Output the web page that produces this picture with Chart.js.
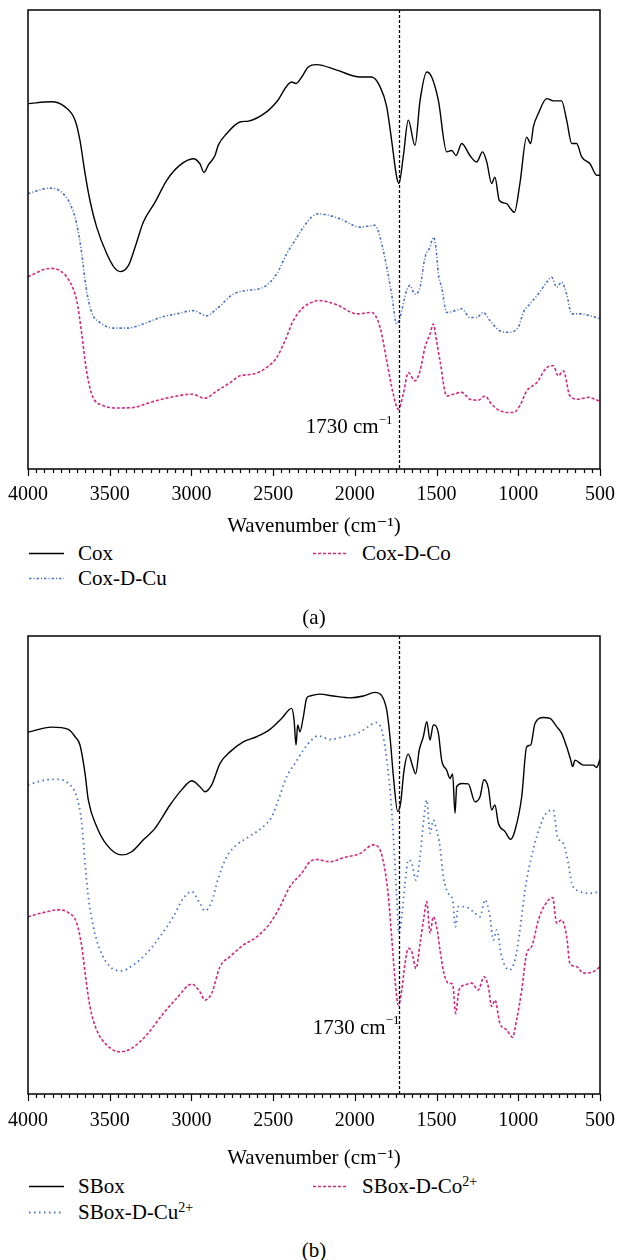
<!DOCTYPE html>
<html>
<head>
<meta charset="utf-8">
<script src="https://cdn.jsdelivr.net/npm/chart.js@4.4.1/dist/chart.umd.min.js"></script>
<style>
  body { margin: 0; background: #fff; }
  #page { position: relative; width: 618px; height: 1260px; font-family: "Liberation Serif", "DejaVu Serif", serif; color: #000; }
  canvas { position: absolute; left: 0; }
  .leg { position: absolute; font-size: 21px; line-height: 24px; white-space: nowrap; }
  .leg svg { position: absolute; top: 0; }
  .leg sup { font-size: 14px; vertical-align: 7px; line-height: 0; }
  .cap { position: absolute; width: 618px; left: 5px; text-align: center; font-size: 21px; line-height: 24px; }
</style>
</head>
<body>
<div id="page">
  <canvas id="chartA" width="618" height="540" style="top:0px"></canvas>
  <canvas id="chartB" width="618" height="546" style="top:626px"></canvas>
  <div id="legendA"></div>
  <div id="legendB"></div>
  <div class="cap" style="top:605px">(a)</div>
  <div class="cap" style="top:1238px">(b)</div>
</div>
<script>
const FONT = '"Liberation Serif", "DejaVu Serif", serif';

// panel (a) -- wavenumber (cm-1) / transmittance (a.u., % of plot height)
const coxWn = [4000,3855,3774,3712,3682,3651,3621,3580,3518,3468,3437,3386,3345,3294,3223,3151,3070,2989,2948,2923,2897,2856,2836,2784,2703,2652,2540,2478,2387,2360,2325,2285,2234,2111,1969,1897,1846,1805,1775,1744,1730,1704,1673,1632,1601,1560,1530,1489,1438,1407,1381,1346,1296,1255,1218,1193,1163,1143,1116,1071,1047,1024,990,949,924,908,878,826,786,735,704,673,643,612,561,520,500];
const coxT = [79.6,80.0,78.9,76.0,71.6,64.4,58.5,52.7,46.9,43.7,43.0,44.3,48.3,53.8,58.1,62.9,66.2,67.6,66.5,64.6,66.2,68.3,70.5,73.1,75.6,75.8,77.8,80.0,84.3,84.0,85.4,87.6,88.1,86.9,85.4,85.4,83.3,78.9,71.6,63.6,62.2,68.0,76.0,70.5,80.3,86.5,85.4,80.3,69.1,69.4,68.3,70.9,68.3,66.9,69.1,66.9,62.2,63.6,58.5,57.8,56.7,55.9,62.2,72.3,70.9,74.5,77.4,80.7,80.2,80.2,76.0,70.9,70.9,68.0,66.5,64.0,64.0];

const coxCuWn = [4000,3865,3794,3743,3702,3671,3645,3610,3559,3478,3396,3294,3192,3090,2989,2907,2845,2744,2662,2560,2478,2417,2366,2315,2264,2224,2091,1969,1877,1846,1805,1775,1744,1724,1683,1663,1632,1601,1571,1540,1520,1504,1489,1469,1438,1387,1346,1296,1255,1214,1173,1112,1061,1000,969,928,878,826,796,765,735,704,673,622,561,500];
const coxCuT = [60.0,61.2,60.3,57.8,53.4,46.9,39.6,34.1,31.9,30.7,30.7,31.6,33.0,33.8,34.5,33.4,34.9,38.1,38.9,39.6,42.5,46.9,49.8,52.7,54.9,55.6,54.5,52.7,53.1,50.5,44.0,38.1,31.6,33.0,38.9,40.0,38.1,39.6,46.1,48.3,50.5,48.3,42.5,39.6,34.1,34.5,34.9,33.0,33.0,34.1,32.3,30.1,29.8,30.9,34.1,36.0,38.1,40.7,41.8,39.6,40.7,38.1,33.8,33.8,33.4,32.7];

const coxCoWn = [4000,3865,3804,3743,3702,3671,3645,3610,3539,3457,3355,3253,3131,2998,2917,2845,2764,2703,2621,2540,2478,2428,2377,2315,2264,2224,2111,1989,1897,1846,1805,1765,1734,1704,1673,1632,1601,1571,1540,1520,1500,1479,1438,1397,1346,1296,1245,1204,1163,1112,1030,990,949,887,826,786,755,724,684,633,572,500];
const coxCoT = [41.9,43.7,43.2,40.7,36.7,29.4,22.1,16.3,13.8,13.3,13.4,14.5,15.6,16.3,15.4,17.0,18.8,20.3,20.7,22.1,24.3,27.9,32.3,35.2,36.3,36.7,35.8,33.8,34.1,30.9,23.6,16.3,13.0,16.3,21.0,19.2,21.4,26.5,29.4,31.6,27.9,23.6,15.9,16.3,16.7,15.2,15.0,15.9,14.1,12.7,12.3,13.8,17.0,18.8,22.1,22.5,20.3,21.4,15.9,15.2,15.6,14.8];

// panel (b)
const sboxWn = [4000,3855,3753,3712,3682,3651,3631,3580,3518,3427,3365,3294,3223,3131,3060,2998,2948,2917,2876,2825,2764,2683,2601,2519,2448,2387,2372,2360,2350,2336,2315,2295,2275,2213,2132,2030,1948,1877,1836,1805,1785,1764,1738,1720,1699,1673,1646,1628,1606,1581,1560,1540,1520,1489,1469,1438,1418,1402,1387,1377,1346,1306,1265,1234,1210,1183,1163,1143,1122,1081,1047,1020,979,949,924,898,847,806,765,735,704,679,667,653,602,541,520,500];
const sboxT = [79.0,80.1,79.6,78.0,76.2,70.0,64.2,58.4,54.4,52.2,52.9,55.5,58.0,63.1,66.4,68.4,67.1,66.0,67.5,72.2,74.7,76.9,78.0,79.6,82.0,84.2,81.7,76.2,80.6,79.1,82.4,86.4,86.9,87.3,86.9,86.5,86.9,87.7,87.0,83.8,78.0,69.3,61.7,63.5,70.7,74.2,71.5,69.9,75.1,78.0,81.3,77.3,80.6,78.8,72.9,70.7,68.9,69.9,61.3,67.1,67.8,67.7,63.8,64.9,68.6,66.8,62.0,63.1,59.1,57.3,55.6,57.6,64.9,75.8,76.2,80.9,82.2,82.0,80.2,78.8,75.8,72.9,71.5,72.9,71.8,71.8,71.3,73.1];

const sboxCuWn = [4000,3886,3815,3753,3702,3671,3651,3631,3600,3559,3498,3427,3355,3274,3192,3111,3050,2998,2948,2917,2876,2836,2784,2723,2642,2560,2509,2468,2417,2366,2315,2264,2224,2152,2070,1979,1918,1871,1836,1810,1785,1764,1744,1730,1713,1693,1673,1652,1626,1601,1577,1560,1540,1520,1500,1479,1459,1428,1402,1385,1367,1326,1275,1234,1204,1173,1153,1132,1102,1055,1020,990,959,928,887,837,786,761,724,694,673,622,561,500];
const sboxCuT = [67.5,68.6,68.7,67.8,64.9,59.1,50.4,43.1,36.5,31.4,27.8,26.9,28.2,30.7,34.4,38.7,42.7,44.2,41.6,40.0,42.0,47.1,51.8,54.4,56.3,58.4,60.5,64.2,69.3,72.2,75.1,77.3,78.2,77.4,78.0,78.8,80.2,81.1,79.5,74.4,66.4,56.2,43.1,35.1,38.7,46.0,51.1,50.4,46.7,51.8,60.5,64.2,56.9,59.8,57.6,54.0,47.5,43.8,42.4,36.5,40.9,40.9,39.8,38.7,42.4,38.7,33.6,35.8,30.0,27.1,29.3,35.8,44.5,50.4,56.2,60.9,62.0,56.2,54.7,50.4,46.0,44.2,43.8,44.2];

const sboxCoWn = [4000,3906,3815,3753,3702,3671,3645,3621,3580,3518,3437,3365,3274,3172,3090,2998,2948,2917,2876,2825,2764,2683,2601,2519,2458,2397,2325,2275,2234,2152,2070,1969,1887,1846,1816,1795,1775,1754,1734,1713,1693,1673,1652,1626,1601,1577,1560,1540,1520,1496,1479,1455,1428,1402,1383,1363,1326,1285,1245,1210,1183,1163,1143,1112,1071,1035,1010,979,949,918,877,837,790,765,735,704,684,643,602,541,500];
const sboxCoT = [38.7,39.6,40.2,39.6,37.3,32.2,24.9,19.1,14.0,10.7,9.2,10.0,12.9,17.6,20.9,24.0,22.3,20.5,22.0,27.8,30.0,32.5,34.3,37.3,40.9,45.3,48.2,50.7,51.2,50.7,51.6,52.5,54.4,53.3,48.9,43.1,34.4,24.9,19.4,22.7,28.5,31.8,31.1,27.4,32.9,38.7,42.0,35.1,38.7,35.8,31.4,26.4,24.2,24.0,17.6,22.7,23.8,24.2,22.7,25.6,23.4,19.1,20.5,15.4,14.0,12.4,16.2,22.7,30.7,32.2,38.0,41.3,42.9,37.3,38.0,34.4,28.5,27.8,26.4,26.7,27.8];

const namesA = ['Cox', 'Cox-D-Cu', 'Cox-D-Co'];
const supsA = ['', '', ''];
const namesB = ['SBox', 'SBox-D-Cu', 'SBox-D-Co'];
const supsB = ['', '2+', '2+'];
const xTicksMajor = [4000, 3500, 3000, 2500, 2000, 1500, 1000, 500];
const markerWn = 1730;

const BLACK = '#000000';
const BLUE = '#4a72c6';
const PINK = '#d4267f';

function pts(wn, t) {
    return wn.map((w, i) => ({ x: w, y: t[i] }));
}

// box, minor/major ticks, 1730 line and its label
const framePlugin = {
    id: 'frame',
    afterDatasetsDraw(chart, args, opts) {
        const { ctx, chartArea: a } = chart;
        const x = chart.scales.x;
        const y = chart.scales.y;
        ctx.save();
        ctx.strokeStyle = '#000';
        ctx.lineWidth = 1.5;
        ctx.strokeRect(a.left, a.top, a.right - a.left, a.bottom - a.top);

        ctx.lineWidth = 1.2;
        x.ticks.forEach(t => {
            const px = Math.round(x.getPixelForValue(t.value)) + 0.5;
            const len = xTicksMajor.includes(t.value) ? 7 : 4;
            ctx.beginPath();
            ctx.moveTo(px, a.bottom);
            ctx.lineTo(px, a.bottom + len);
            ctx.stroke();
        });

        const mx = Math.round(x.getPixelForValue(markerWn)) + 0.5;
        ctx.setLineDash([3, 2]);
        ctx.lineWidth = 1.3;
        ctx.beginPath();
        ctx.moveTo(mx, a.top);
        ctx.lineTo(mx, a.bottom);
        ctx.stroke();
        ctx.setLineDash([]);

        const ty = y.getPixelForValue(opts.labelY);
        ctx.fillStyle = '#000';
        ctx.textBaseline = 'middle';
        const main = markerWn + ' cm';
        ctx.font = '13px ' + FONT;
        const supW = ctx.measureText('\u22121').width;
        ctx.font = '21px ' + FONT;
        const mainW = ctx.measureText(main).width;
        const right = mx - opts.gap;
        ctx.textAlign = 'left';
        ctx.fillText(main, right - supW - mainW, ty);
        ctx.font = '13px ' + FONT;
        ctx.fillText('\u22121', right - supW, ty - 7);
        ctx.restore();
    }
};

function makeChart(id, sets, axisH, tickPad, labelY, gap) {
    return new Chart(document.getElementById(id), {
        type: 'line',
        data: {
            datasets: sets.map(s => ({
                label: s.label,
                data: s.data,
                borderColor: s.color,
                borderDash: s.dash,
                borderWidth: s.width,
                pointRadius: 0,
                fill: false,
                cubicInterpolationMode: 'monotone'
            }))
        },
        options: {
            responsive: false,
            animation: false,
            layout: { padding: { left: 28, right: 18, top: 10, bottom: 0 } },
            plugins: {
                legend: { display: false },
                tooltip: { enabled: false },
                frame: { labelY, gap }
            },
            scales: {
                x: {
                    type: 'linear',
                    reverse: true,
                    min: 500,
                    max: 4000,
                    grid: { display: false },
                    border: { display: false },
                    ticks: {
                        stepSize: 50,
                        autoSkip: false,
                        maxTicksLimit: 100,
                        maxRotation: 0,
                        padding: tickPad,
                        color: '#000',
                        font: { family: FONT, size: 20 },
                        callback: v => xTicksMajor.includes(v) ? String(v) : ''
                    },
                    title: {
                        display: true,
                        text: 'Wavenumber (cm\u207B\u00B9)',
                        color: '#000',
                        font: { family: FONT, size: 21 },
                        padding: { top: 0, bottom: 1 }
                    },
                    afterFit: s => {
                        s.height = axisH;
                        s.paddingLeft = 0;
                        s.paddingRight = 0;
                    }
                },
                y: { display: false, min: 0, max: 100 }
            }
        },
        plugins: [framePlugin]
    });
}

const stylesA = [
    { color: BLACK, width: 1.4, dash: [] },
    { color: BLUE, width: 1.6, dash: [2.5, 2, 1, 2] },
    { color: PINK, width: 1.6, dash: [3, 2] }
];
const stylesB = [
    { color: BLACK, width: 1.4, dash: [] },
    { color: BLUE, width: 1.8, dash: [1.5, 3.5] },
    { color: PINK, width: 1.6, dash: [3, 2] }
];

const chartA = makeChart('chartA', [
    { label: namesA[0], data: pts(coxWn, coxT), ...stylesA[0] },
    { label: namesA[1], data: pts(coxCuWn, coxCuT), ...stylesA[1] },
    { label: namesA[2], data: pts(coxCoWn, coxCoT), ...stylesA[2] }
], 71, 6, 9.0, 7);

const chartB = makeChart('chartB', [
    { label: namesB[0], data: pts(sboxWn, sboxT), ...stylesB[0] },
    { label: namesB[1], data: pts(sboxCuWn, sboxCuT), ...stylesB[1] },
    { label: namesB[2], data: pts(sboxCoWn, sboxCoT), ...stylesB[2] }
], 78, 7, 14.4, 0);

// html legend built from chart datasets: two columns, Cu goes under the first entry
function buildLegend(chart, boxId, sups, rowTops) {
    const box = document.getElementById(boxId);
    const slots = [
        { left: 29, top: rowTops[0] },
        { left: 29, top: rowTops[1] },
        { left: 313, top: rowTops[0] }
    ];
    chart.data.datasets.forEach((ds, i) => {
        const s = slots[i];
        const item = document.createElement('div');
        item.className = 'leg';
        item.style.left = s.left + 'px';
        item.style.top = s.top + 'px';
        item.style.paddingLeft = '49px';
        const dash = ds.borderDash && ds.borderDash.length ? ds.borderDash.join(' ') : 'none';
        item.innerHTML =
            '<svg width="36" height="24" style="left:0">' +
            '<line x1="0" y1="12.5" x2="35" y2="12.5" stroke="' + ds.borderColor +
            '" stroke-width="' + ds.borderWidth + '" stroke-dasharray="' + dash + '"/></svg>' +
            ds.label + (sups[i] ? '<sup>' + sups[i] + '</sup>' : '');
        box.appendChild(item);
    });
}

buildLegend(chartA, 'legendA', supsA, [541, 566]);
buildLegend(chartB, 'legendB', supsB, [1174, 1200]);
</script>
</body>
</html>
